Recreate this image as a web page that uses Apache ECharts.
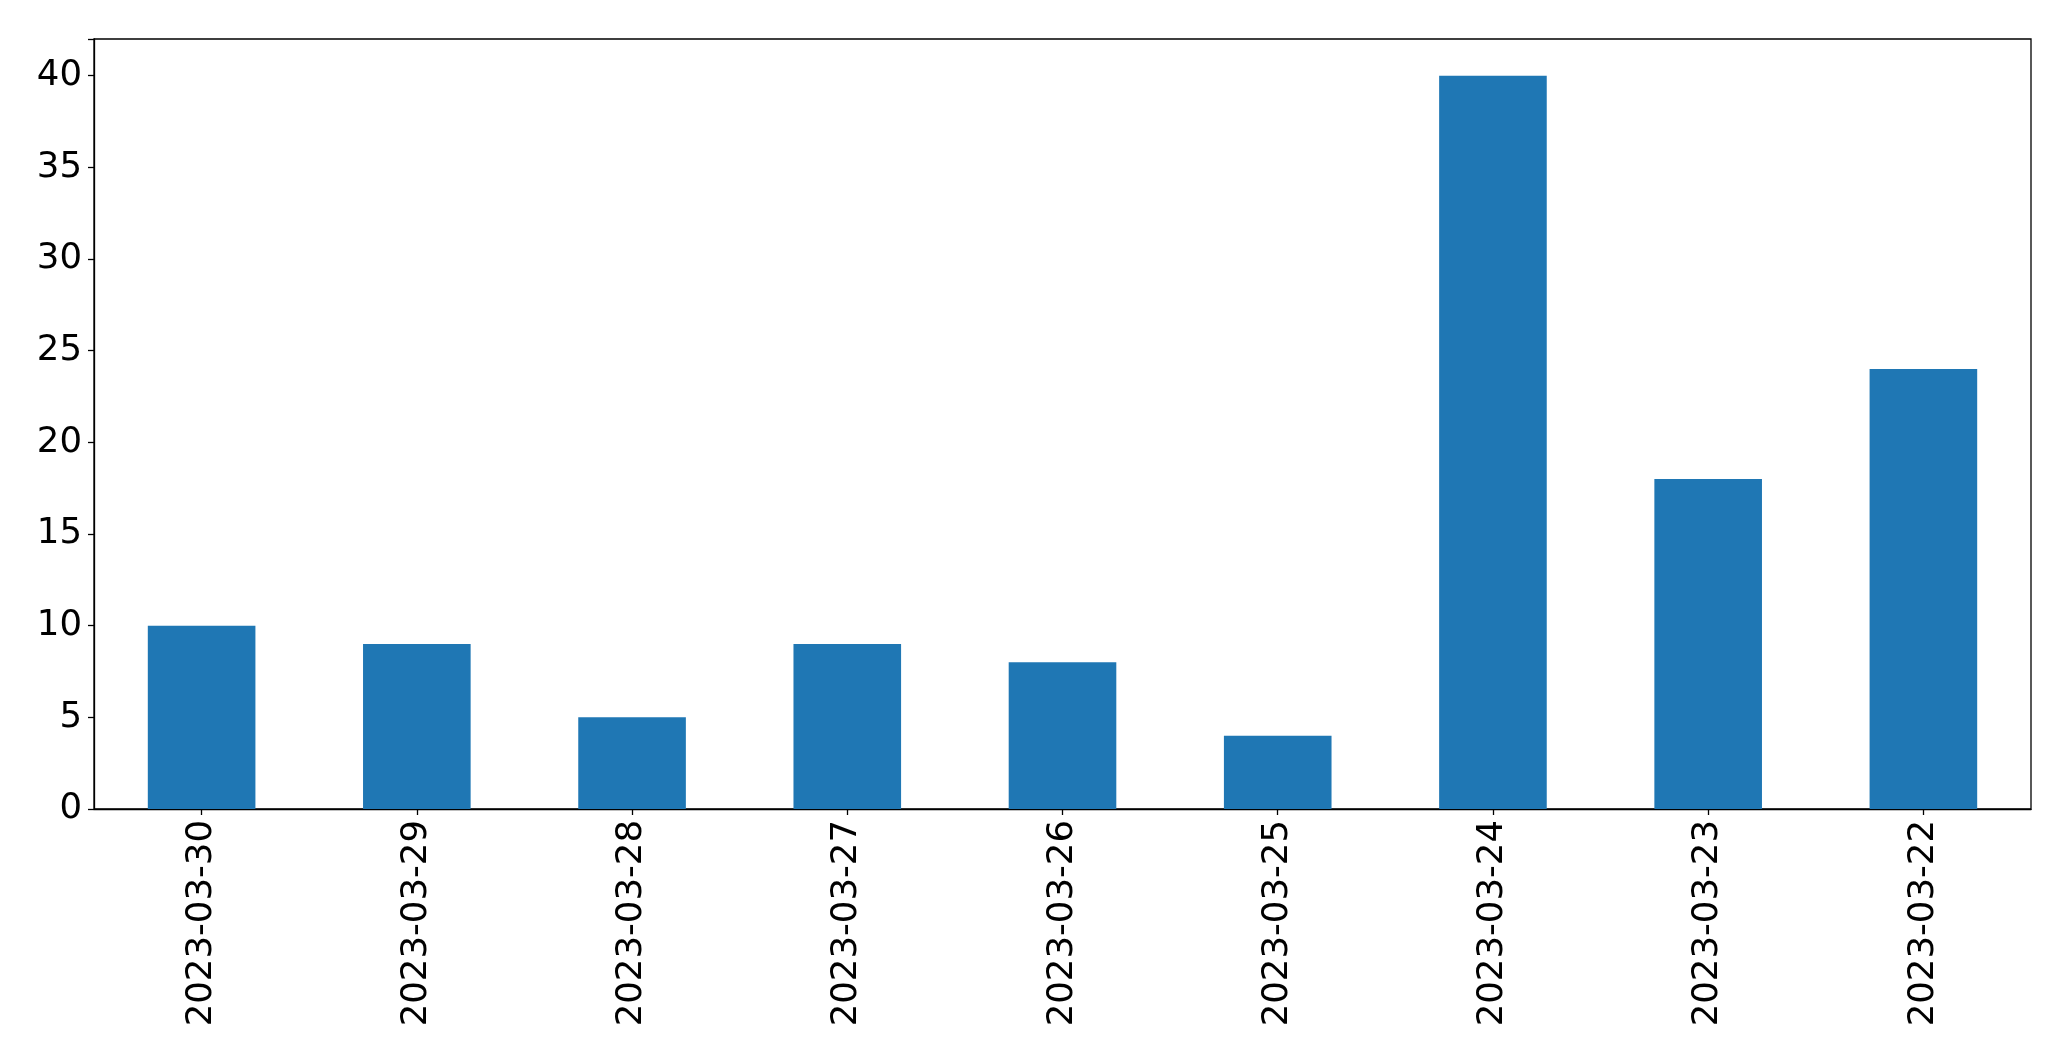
<!DOCTYPE html>
<html>
<head>
<meta charset="utf-8">
<script src="https://cdn.jsdelivr.net/npm/echarts@6/dist/echarts.min.js"></script>
<style>
html,body{margin:0;padding:0;background:#fff;}
#chart{width:2071px;height:1061px;}
</style>
</head>
<body>
<div id="chart"></div>
<script>
const categories = ['2023-03-30','2023-03-29','2023-03-28','2023-03-27','2023-03-26','2023-03-25','2023-03-24','2023-03-23','2023-03-22'];
const values = [10, 9, 5, 9, 8, 4, 40, 18, 24];
const yTicks = [0, 5, 10, 15, 20, 25, 30, 35, 40];

const chart = echarts.init(document.getElementById('chart'), null, {renderer: 'canvas'});
const font = 'DejaVu Sans';
chart.setOption({
  animation: false,
  backgroundColor: '#fff',
  grid: {left: 94, right: 40, top: 39, bottom: 252, show: true, borderColor: '#000', borderWidth: 1.3, backgroundColor: 'transparent'},
  xAxis: {
    type: 'category',
    data: categories,
    boundaryGap: true,
    axisLine: {show: true, lineStyle: {color: '#000', width: 1.3}},
    axisTick: {show: true, inside: false, alignWithLabel: true, length: 6, lineStyle: {color: '#000', width: 1.3}},
    axisLabel: {rotate: 90, fontFamily: font, fontSize: 35.5, color: '#000', margin: 11, interval: 0},
    splitLine: {show: false}
  },
  yAxis: {
    type: 'value',
    min: 0,
    max: 42,
    interval: 5,
    axisLine: {show: true, lineStyle: {color: '#000', width: 1.3}},
    axisTick: {show: true, inside: false, length: 6, lineStyle: {color: '#000', width: 1.3}},
    axisLabel: {fontFamily: font, fontSize: 35.5, color: '#000', margin: 12,
      formatter: function(v){ return yTicks.indexOf(v) >= 0 ? String(v) : ''; }},
    splitLine: {show: false}
  },
  series: [{
    type: 'bar',
    data: values,
    barWidth: '50%',
    itemStyle: {color: '#1f77b4'}
  }]
});
</script>
</body>
</html>
